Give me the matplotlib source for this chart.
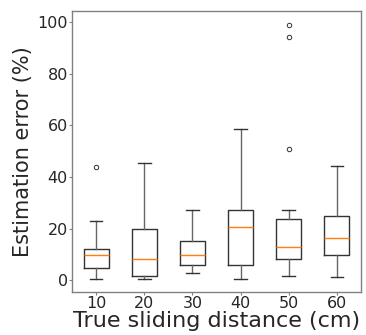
import matplotlib
matplotlib.use('Agg')
import matplotlib.pyplot as plt

# box statistics (estimation error in %)
distances = ['10', '20', '30', '40', '50', '60']
whislo = [0.3, 0.4, 2.8, 0.4, 1.8, 1.4]
q1 = [4.8, 1.7, 6.1, 6.1, 8.4, 9.6]
med = [9.9, 8.4, 9.6, 20.8, 12.9, 16.5]
q3 = [12.1, 20.0, 15.1, 27.1, 23.6, 24.8]
whishi = [23.0, 45.5, 27.4, 58.5, 27.4, 44.1]
fliers = [[43.7], [], [], [], [99.0, 94.1, 50.9], []]

stats = []
for i in range(len(distances)):
    stats.append({'whislo': whislo[i], 'q1': q1[i], 'med': med[i],
                  'q3': q3[i], 'whishi': whishi[i], 'fliers': fliers[i]})

fig = plt.figure(figsize=(3.66, 3.35), dpi=100)
ax = fig.add_axes([0.197, 0.128, 0.789, 0.839])

ax.bxp(stats, showfliers=True, widths=0.52,
       boxprops=dict(color='#333333', linewidth=1),
       whiskerprops=dict(color='#666666', linewidth=1),
       capprops=dict(color='#333333', linewidth=1),
       medianprops=dict(color='#ff7f0e', linewidth=1),
       flierprops=dict(marker='o', markersize=3.2, markerfacecolor='none',
                       markeredgecolor='#333333', markeredgewidth=0.7))

ax.set_xticks(range(1, len(distances) + 1))
ax.set_xticklabels(distances)
ax.set_xlim(0.5, 6.5)
ax.set_ylim(-4.6, 104.3)
ax.set_yticks([0, 20, 40, 60, 80, 100])

for s in ax.spines.values():
    s.set_color('#808080')
    s.set_linewidth(1)
ax.tick_params(length=2, width=0.8, color='#808080', labelsize=11.5,
               labelcolor='#262626', pad=1)

ax.set_xlabel('True sliding distance (cm)', fontsize=16, color='#262626', labelpad=0)
ax.set_ylabel('Estimation error (%)', fontsize=15, color='#262626', labelpad=3)

fig.savefig('out.png', dpi=100)
